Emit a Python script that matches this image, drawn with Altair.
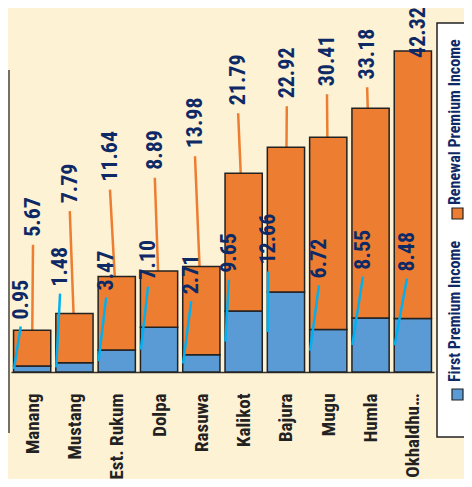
import altair as alt
import pandas as pd

# ---------------- data ----------------
districts = ["Manang", "Mustang", "Est. Rukum", "Dolpa", "Rasuwa",
             "Kalikot", "Bajura", "Mugu", "Humla", "Okhaldhu…"]
first_premium = [0.95, 1.48, 3.47, 7.10, 2.71, 9.65, 12.66, 6.72, 8.55, 8.48]
renewal_premium = [5.67, 7.79, 11.64, 8.89, 13.98, 21.79, 22.92, 30.41, 33.18, 42.32]

# data-label anchors as placed in the original (axis units: bar index / value)
first_label_x = [-0.27, 0.66, 1.75, 2.74, 3.76, 4.65, 5.58, 6.78, 7.82, 8.86]
first_label_y = [8.3, 13.5, 12.9, 14.6, 12.3, 15.7, 17.0, 14.8, 16.2, 15.9]
renewal_label_x = [0.02, 0.89, 1.84, 2.90, 3.85, 4.87, 6.02, 6.97, 7.92, 9.12]
renewal_label_y = [21.4, 26.7, 30.1, 32.0, 35.4, 42.2, 43.3, 45.2, 46.3, 49.7]

legend_labels = ["First Premium Income", "Renewal Premium Income"]

# ---------------- styling ----------------
BLUE = "#5b9bd5"
ORANGE = "#ed7d31"
CYAN = "#00b0f0"
NAVY = "#0e2a66"
INK = "#222222"
BG = "#fef2d5"
FONT = "'Roboto Condensed', 'Liberation Sans Narrow', 'Arial Narrow', Roboto, sans-serif"

df = pd.DataFrame({
    "idx": list(range(len(districts))),
    "district": districts,
    "first": first_premium,
    "renewal": renewal_premium,
    "flx": first_label_x,
    "fly": first_label_y,
    "rlx": renewal_label_x,
    "rly": renewal_label_y,
})

label_expr = "[" + ",".join("'" + d + "'" for d in districts) + "][datum.value]"

xscale = alt.Scale(domain=[-0.5, len(districts) - 0.5], nice=False, zero=False)
yscale = alt.Scale(domain=[0, 57.6], nice=False)

base = alt.Chart(df).transform_calculate(
    x0="datum.idx - 0.44",
    x1="datum.idx + 0.44",
    total="datum.first + datum.renewal",
    fmid="datum.first / 2",
    rmid="datum.first + datum.renewal / 2",
    bar_left="datum.idx - 0.43",
    fl_top="datum.fly - 1.1",
    rl_top="datum.rly - 1.25",
    ftxt="format(datum.first, '.2f')",
    rtxt="format(datum.renewal, '.2f')",
)

x_axis = alt.Axis(
    values=list(range(len(districts))),
    labelExpr=label_expr,
    labelAngle=-90,
    labelFont=FONT,
    labelFontSize=19,
    labelFontWeight="bold",
    labelColor=INK,
    labelPadding=21,
    labelOverlap=False,
    labelFlush=False,
    labelLimit=300,
    ticks=False,
    grid=False,
    domainColor="#333333",
    domainWidth=1.5,
    title=None,
)

orange_leaders = base.mark_rule(color=ORANGE, strokeWidth=2.5).encode(
    x=alt.X("rlx:Q", scale=xscale, axis=x_axis),
    x2="idx:Q",
    y=alt.Y("rl_top:Q", scale=yscale, axis=None),
    y2="rmid:Q",
)

blue_bars = base.mark_bar(color=BLUE, stroke=INK, strokeWidth=1.5).encode(
    x=alt.X("x0:Q", scale=xscale, axis=x_axis),
    x2="x1:Q",
    y=alt.Y("first:Q", scale=yscale, axis=None),
    y2=alt.datum(0),
)

orange_bars = base.mark_bar(color=ORANGE, stroke=INK, strokeWidth=1.5).encode(
    x=alt.X("x0:Q", scale=xscale, axis=x_axis),
    x2="x1:Q",
    y=alt.Y("total:Q", scale=yscale, axis=None),
    y2="first:Q",
)

blue_leaders = base.mark_rule(color=CYAN, strokeWidth=2.5).encode(
    x=alt.X("flx:Q", scale=xscale, axis=x_axis),
    x2="bar_left:Q",
    y=alt.Y("fl_top:Q", scale=yscale, axis=None),
    y2="fmid:Q",
)

text_props = dict(angle=270, align="left", baseline="middle", font=FONT,
                  fontSize=22, fontWeight="bold", color=NAVY)

first_labels = base.mark_text(**text_props).encode(
    x=alt.X("flx:Q", scale=xscale, axis=x_axis),
    y=alt.Y("fly:Q", scale=yscale, axis=None),
    text="ftxt:N",
)

renewal_labels = base.mark_text(**text_props).encode(
    x=alt.X("rlx:Q", scale=xscale, axis=x_axis),
    y=alt.Y("rly:Q", scale=yscale, axis=None),
    text="rtxt:N",
)

# ---------------- legend (rotated, drawn by hand) ----------------
one = pd.DataFrame({"k": [0]})
legend_box = alt.Chart(one).mark_rect(fill="white", stroke=INK, strokeWidth=1.5).encode(
    x=alt.value(426), x2=alt.value(480), y=alt.value(15), y2=alt.value(429)
)
left_frame = alt.Chart(one).mark_rule(color="#444444", strokeWidth=1.5).encode(
    x=alt.value(-2), y=alt.value(62), y2=alt.value(425)
)
leg_first_sq = alt.Chart(one).mark_rect(fill=BLUE, stroke=INK, strokeWidth=1.2).encode(
    x=alt.value(441), x2=alt.value(452), y=alt.value(381), y2=alt.value(392)
)
leg_renew_sq = alt.Chart(one).mark_rect(fill=ORANGE, stroke=INK, strokeWidth=1.2).encode(
    x=alt.value(441), x2=alt.value(452), y=alt.value(200), y2=alt.value(211)
)
leg_props = dict(angle=270, align="left", baseline="middle", font=FONT,
                 fontSize=16, fontWeight="bold", color=NAVY)
leg_first_txt = alt.Chart(pd.DataFrame({"t": [legend_labels[0]]})).mark_text(**leg_props).encode(
    x=alt.value(444), y=alt.value(374), text="t:N"
)
leg_renew_txt = alt.Chart(pd.DataFrame({"t": [legend_labels[1]]})).mark_text(**leg_props).encode(
    x=alt.value(444), y=alt.value(197), text="t:N"
)

chart = alt.layer(
    orange_leaders,
    blue_bars,
    orange_bars,
    blue_leaders,
    first_labels,
    renewal_labels,
    left_frame,
    legend_box,
    leg_first_sq,
    leg_renew_sq,
    leg_first_txt,
    leg_renew_txt,
).properties(
    width=423,
    height=364,
    background=BG,
    padding={"left": 3, "top": 0, "right": 30, "bottom": 107},
    autosize=alt.AutoSizeParams(type="none"),
).configure_view(stroke=None)

chart.save("out.html", embed_options={"renderer": "svg", "actions": False})
